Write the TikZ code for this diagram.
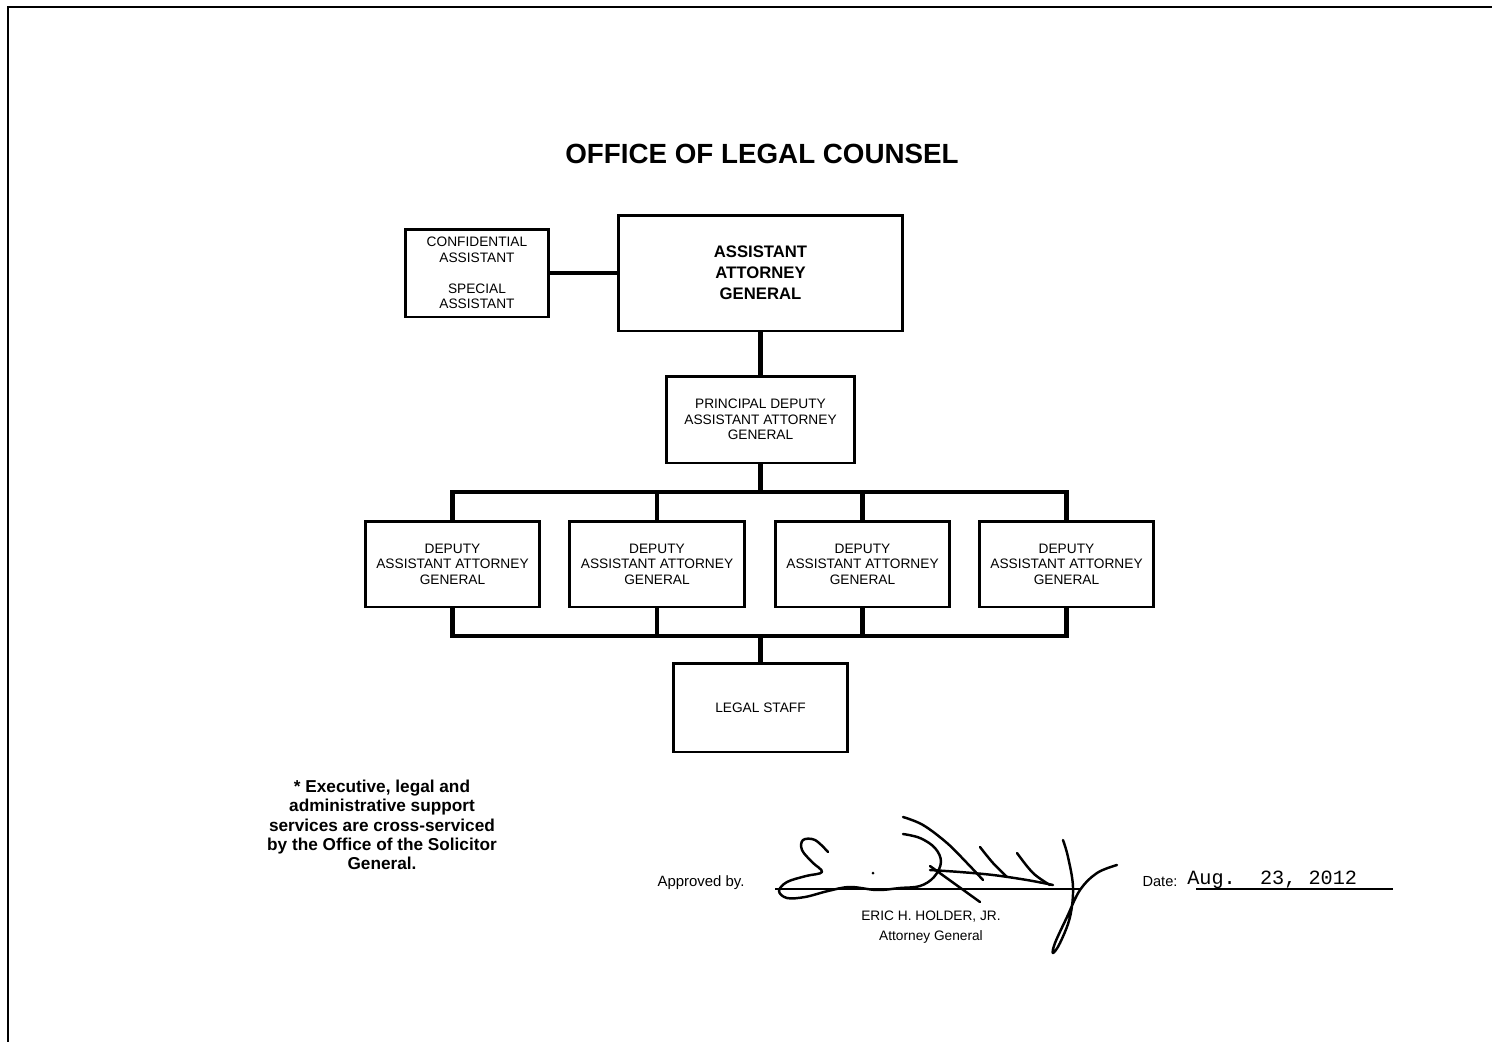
\documentclass[tikz,border=0pt]{standalone}
\usepackage{fontspec}
\setmainfont{Liberation Sans}
\setmonofont{Liberation Mono}
\tikzset{
  box/.style={draw, line width=1.7pt, align=center, inner sep=0pt,
    font=\fontsize{7.8}{8.8}\selectfont},
  bigbox/.style={box, font=\fontsize{9.5}{12}\selectfont\bfseries},
  link/.style={line width=2.3pt},
  rule/.style={line width=0.8pt},
  sig/.style={line width=1.4pt, line cap=round, line join=round}
}

\begin{document}
\begin{tikzpicture}[x=0.02cm, y=-0.02cm]
\useasboundingbox (0,0) rectangle (1492,1042);
\draw[line width=1.2pt] (1492,7) -- (8,7) -- (8,1042);

\node (title) at (762,154) {\fontsize{15.8}{18}\selectfont\bfseries OFFICE OF LEGAL COUNSEL};

\node[box, minimum width=2.88cm, minimum height=1.76cm] (conf) at (477,273)
  {CONFIDENTIAL\\ASSISTANT\\[8.8pt]SPECIAL\\ASSISTANT};
\node[bigbox, minimum width=5.7cm, minimum height=2.32cm] (aag) at (760.5,273)
  {ASSISTANT\\ATTORNEY\\GENERAL};
\node[box, minimum width=3.78cm, minimum height=1.74cm] (pdaag) at (760.5,419.5)
  {PRINCIPAL DEPUTY\\ASSISTANT ATTORNEY\\GENERAL};
\foreach \n/\x in {daag1/452.5, daag2/657, daag3/862.5, daag4/1066.5}
{
  \node[box, minimum width=3.5cm, minimum height=1.72cm] (\n) at (\x,564)
    {DEPUTY\\ASSISTANT ATTORNEY\\GENERAL};
}
\node[box, minimum width=3.5cm, minimum height=1.78cm] (legal) at (760.5,707.5) {LEGAL STAFF};

\coordinate (upbus) at (760.5,492);
\coordinate (lowbus) at (760.5,636);
\draw[link] (conf) -- (aag);
\draw[link] (aag) -- (pdaag);
\draw[link] (pdaag) -- (upbus);
\foreach \n in {daag1,daag2,daag3,daag4}
{
  \draw[link] (upbus) -| (\n.north);
  \draw[link] (lowbus) -| (\n.south);
}
\draw[link] (lowbus) -- (legal);

\node[align=center, font=\fontsize{9.8}{11}\selectfont\bfseries] (note) at (382,825)
  {* Executive, legal and\\administrative support\\services are cross-serviced\\by the Office of the Solicitor\\General.};

% approval line
\node (appr) at (701,883) {\fontsize{8.5}{10}\selectfont Approved by.};
\coordinate (sigl) at (775,889);
\coordinate (sigr) at (1080,889);
\draw[rule] (sigl) -- (sigr);
\node[align=center, font=\fontsize{7.8}{11}\selectfont] (holder) at (931,927)
  {ERIC H. HOLDER, JR.\\Attorney General};
\node (datelbl) at (1160,882) {\fontsize{8.3}{10}\selectfont Date:};
\node[anchor=west, inner sep=0pt] (date) at (1187,880) {\fontsize{11.5}{12}\selectfont\ttfamily Aug.~~23,~2012};
\coordinate (datel) at (1196,889);
\coordinate (dater) at (1393,889);
\draw[rule] (datel) -- (dater);

% signature
\draw[sig] plot[smooth, tension=0.6] coordinates {(828,852) (815,840) (803,840) (802,850)
  (812,862) (822,872) (806,876) (787,882) (779,891) (787,898) (805,897) (828,891) (850,887)
  (877,890) (900,888) (920,886) (934,877) (941,862) (935,848) (920,838) (903,834)};
\draw[sig] plot[smooth, tension=0.6] coordinates {(903,817) (923,825) (947,843) (967,863) (983,880)};
\draw[sig] plot[smooth, tension=0.6] coordinates {(930,866) (955,884) (980,902)};
\draw[sig] plot[smooth, tension=0.6] coordinates {(930,870) (960,872) (993,875) (1027,880) (1053,885)};
\draw[sig] plot[smooth, tension=0.6] coordinates {(980,847) (993,863) (1007,877)};
\draw[sig] plot[smooth, tension=0.6] coordinates {(1017,853) (1033,873) (1050,885)};
\draw[sig] plot[smooth, tension=0.6] coordinates {(1063,840) (1068,857) (1073,887) (1070,917)
  (1060,943) (1053,953) (1055,943) (1067,917) (1080,890) (1097,873) (1117,865)};
\fill (873,873) circle (1.5);
\end{tikzpicture}
\end{document}
